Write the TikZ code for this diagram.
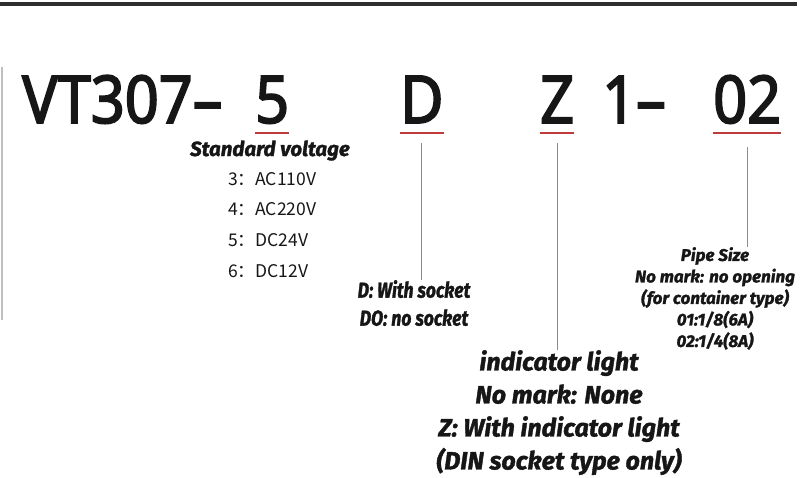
\documentclass[tikz,border=0pt]{standalone}
\usepackage{fontspec}
\usetikzlibrary{positioning}
\setmainfont{Noto Sans}
\newfontfamily\codefont[FakeStretch=0.9,FakeBold=2.6]{Noto Sans}
\newfontfamily\notefont{Fira Sans}[BoldItalicFeatures={FakeBold=1.5}]
\newfontfamily\narrowfont{Fira Sans}[BoldItalicFeatures={FakeBold=1.5,FakeStretch=0.82}]
\newfontfamily\cjk{Noto Sans CJK SC}
\definecolor{markred}{HTML}{C0393B}
\definecolor{leadgray}{HTML}{8C8C8C}
\definecolor{inkblack}{HTML}{161616}
\definecolor{bargray}{HTML}{2E2E2E}

\begin{document}
\begin{tikzpicture}[x=1pt,y=-1pt,
    code/.style={anchor=base west,inner sep=0pt,text=inkblack,font=\codefont\fontsize{66}{66}\selectfont},
    redmark/.style={markred,line width=2pt},
    lead/.style={leadgray,line width=1pt},
    voltrow/.style={anchor=base west,inner sep=0pt,text=inkblack,font=\cjk\fontsize{17.5}{17.5}\selectfont},
    note/.style={align=center,inner sep=0pt,text=inkblack}]
    \useasboundingbox (0,0) rectangle (800,477);
    \draw[bargray,line width=4pt] (0,4) -- (797,4);
    \draw[black!25,line width=1.2pt] (2,67) -- (2,320);
    % model code
    \node (model) [code] at (22,123) {VT307–};
    \node (volt)  [code] at (255,123) {5};
    \node (sock)  [code] at (400,123) {D};
    \node (lamp)  [code] at (540,123) {Z};
    \node (seal)  [code] at (602,123) {1–};
    \node (pipe)  [code] at (713,123) {02};
    \foreach \n in {volt,sock,lamp,pipe}
      \draw[redmark] ([yshift=-10pt]\n.base west) -- ([yshift=-10pt]\n.base east);
    % voltage
    \node (voltinfo) [anchor=base,inner sep=0pt,text=inkblack,font=\notefont\bfseries\itshape\fontsize{20.5}{20.5}\selectfont] at (270,156) {Standard voltage};
    \foreach \n/\v [count=\i] in {3/AC110V,4/AC220V,5/DC24V,6/DC12V}
      \node (v\i) [voltrow] at (228,{185+30.7*(\i-1)}) {\n：\v};
    % socket
    \node (sockinfo) [note,anchor=north,font=\narrowfont\bfseries\itshape\fontsize{21.5}{28}\selectfont] at (414,280) {D: With socket\\DO: no socket};
    \draw[lead] ([yshift=-20pt]sock.base) -- (sock.base |- sockinfo.north);
    % indicator light
    \node (lampinfo) [note,anchor=north,font=\notefont\bfseries\itshape\fontsize{25}{33}\selectfont] at (559,350) {indicator light\\No mark: None\\Z: With indicator light\\(DIN socket type only)};
    \draw[lead] ([yshift=-20pt]lamp.base) -- (lamp.base |- lampinfo.north);
    % pipe size
    \node (pipeinfo) [note,anchor=north,font=\notefont\bfseries\itshape\fontsize{17}{21.5}\selectfont] at (715,247) {Pipe Size\\No mark: no opening\\(for container type)\\01:1/8(6A)\\02:1/4(8A)};
    \draw[lead] ([yshift=-24pt]pipe.base) -- (pipe.base |- pipeinfo.north);
\end{tikzpicture}
\end{document}
